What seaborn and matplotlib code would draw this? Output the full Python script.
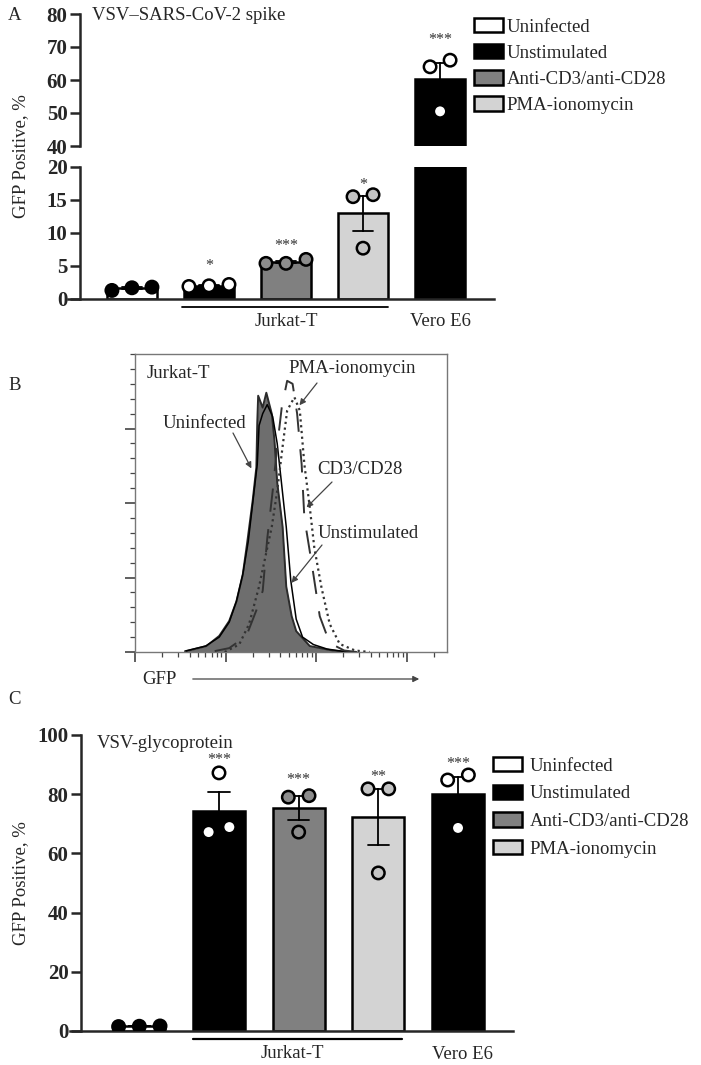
import numpy as np
import pandas as pd
import matplotlib
matplotlib.use('Agg')
import matplotlib.pyplot as plt
from matplotlib.patches import Patch
from matplotlib.ticker import MultipleLocator, LogLocator, NullFormatter
import seaborn as sns

# ---- data ----
groups = ['Uninfected', 'Unstimulated', 'Anti-CD3/anti-CD28', 'PMA-ionomycin', 'Vero E6']
legend_labels = ['Uninfected', 'Unstimulated', 'Anti-CD3/anti-CD28', 'PMA-ionomycin']
bar_colors = ['white', 'black', '#808080', '#d3d3d3', 'black']
dot_colors = ['black', 'white', '#8c8c8c', '#c4c4c4', 'white']

# A: VSV-SARS-CoV-2 spike (% GFP+)
spike_uninfected = [1.3, 1.8, 1.7]
spike_unstim = [1.9, 2.2, 2.0]
spike_cd3 = [5.4, 6.0, 5.4]
spike_pma = [15.8, 15.5, 7.7]
spike_vero = [66.0, 64.0, 50.5]
spike_stars = ['', '*', '***', '*', '***']
spike_star_y = [0, 5.0, 8.1, 17.2, 72.2]

# C: VSV-glycoprotein (% GFP+)
glyco_uninfected = [1.5, 1.7, 1.6]
glyco_unstim = [87.2, 67.2, 68.9]
glyco_cd3 = [79.5, 79.0, 67.2]
glyco_pma = [81.8, 81.8, 53.4]
glyco_vero = [86.5, 84.8, 68.6]
glyco_stars = ['', '***', '***', '**', '***']
glyco_star_y = [0, 91.4, 84.9, 85.9, 90.3]

# B: GFP histograms (log10 GFP, % of max)
uninf_log = [1.57, 1.79, 1.93, 2.04, 2.12, 2.19, 2.24, 2.30, 2.34, 2.35, 2.36, 2.41,
             2.45, 2.51, 2.54, 2.57, 2.63, 2.67, 2.73, 2.78, 2.93, 3.18, 3.34]
uninf_count = [0.3, 2, 5.4, 10.4, 17, 26, 37, 51, 62, 77, 86, 82,
               87, 80, 71, 57, 42, 22, 12, 7, 2, 0.5, 0]
unstim_log = [1.55, 1.78, 1.93, 2.04, 2.12, 2.19, 2.25, 2.30, 2.35, 2.37, 2.41, 2.46,
              2.52, 2.57, 2.62, 2.67, 2.72, 2.78, 2.85, 2.97, 3.12, 3.28, 3.42]
unstim_count = [0.3, 2, 5, 10, 17, 26, 37, 50, 63, 76, 80, 83,
                79, 70, 56, 42, 24, 11, 5, 2.5, 1, 0.3, 0]
cd3_log = [1.88, 2.04, 2.23, 2.34, 2.41, 2.46, 2.52, 2.57, 2.62, 2.68, 2.74, 2.79,
           2.84, 2.87, 2.95, 3.04, 3.15, 3.31, 3.45]
cd3_count = [0.3, 1.3, 5.4, 14, 20.5, 38, 54, 69, 82, 91, 90, 80,
             63, 45, 30, 12, 3, 0.5, 0]
pma_log = [1.99, 2.15, 2.26, 2.37, 2.51, 2.57, 2.63, 2.68, 2.76, 2.82, 2.87, 2.93,
           2.98, 3.06, 3.15, 3.26, 3.43, 3.59]
pma_count = [0, 2.5, 9.4, 22, 42, 54, 69, 81, 85.5, 81, 63, 48.5,
             35, 21.5, 9.4, 2.7, 0.5, 0]


def make_df(vals):
    rows = []
    for g, v in zip(groups, vals):
        for x in v:
            rows.append({'group': g, 'value': x})
    return pd.DataFrame(rows)


spike_df = make_df([spike_uninfected, spike_unstim, spike_cd3, spike_pma, spike_vero])
glyco_df = make_df([glyco_uninfected, glyco_unstim, glyco_cd3, glyco_pma, glyco_vero])


def spread(df, tol, step=0.26):
    # graphpad-like scatter: points closer than tol sit side by side
    pos = np.zeros(len(df))
    for gi, g in enumerate(groups):
        idx = np.where(df['group'].values == g)[0]
        vals = df['value'].values[idx]
        order = np.argsort(vals)
        clusters = [[order[0]]]
        for k in order[1:]:
            if vals[k] - vals[clusters[-1][-1]] < tol:
                clusters[-1].append(k)
            else:
                clusters.append([k])
        for c in clusters:
            n = len(c)
            for j, k in enumerate(c):
                pos[idx[k]] = gi + (j - (n - 1) / 2) * step
    return pos


sns.set_style('white')
plt.rcParams['font.family'] = ['Liberation Serif', 'DejaVu Serif']

W, H = 701, 1065
fig = plt.figure(figsize=(W / 100, H / 100), dpi=100)


def fx(px):
    return px / W


def fy(py):
    return 1 - py / H


FS = 13.5
TFS = 15
bar_pal = dict(zip(groups, bar_colors))
dot_pal = dict(zip(groups, dot_colors))


def draw_bars(ax, df, spine_frac, tol):
    sns.barplot(data=df, x='group', y='value', hue='group', order=groups, hue_order=groups,
                palette=bar_pal, errorbar='se', capsize=0.27, width=0.65,
                err_kws={'color': 'black', 'linewidth': 1.3},
                edgecolor='black', linewidth=1.8, legend=False, ax=ax)
    sns.scatterplot(x=spread(df, tol), y=df['value'].values, hue=df['group'].values,
                    hue_order=groups, palette=dot_pal, s=80, edgecolor='black',
                    linewidth=1.8, legend=False, ax=ax, zorder=3)
    ax.set_xlabel('')
    ax.set_ylabel('')
    ax.tick_params(axis='x', bottom=False, labelbottom=False)
    ax.tick_params(axis='y', left=True, length=7, width=1.8, direction='out', pad=2)
    ax.spines['top'].set_visible(False)
    ax.spines['right'].set_visible(False)
    ax.spines['left'].set_position(('axes', spine_frac))
    ax.spines['left'].set_linewidth(1.8)
    ax.spines['bottom'].set_linewidth(1.8)
    ax.patch.set_alpha(0)


# ---- Panel A ----
axA_top = fig.add_axes([fx(68), fy(146), fx(426), 132 / H])
axA_bot = fig.add_axes([fx(68), fy(299), fx(426), 132 / H])
for ax, lim, ticks, tol in [(axA_top, (40, 80), [40, 50, 60, 70, 80], 4.0),
                            (axA_bot, (0, 20), [0, 5, 10, 15, 20], 2.0)]:
    draw_bars(ax, spike_df, 12 / 426, tol)
    ax.set_ylim(*lim)
    ax.set_yticks(ticks)
    ax.set_yticklabels([str(t) for t in ticks], fontweight='bold', fontsize=TFS)
    ax.set_xlim(-0.83, 4.70)
axA_top.spines['bottom'].set_visible(False)

for i, s in enumerate(spike_stars):
    if not s:
        continue
    target = axA_top if spike_star_y[i] > 20 else axA_bot
    target.text(i, spike_star_y[i], s, ha='center', va='center', fontsize=11.5, color='#333333')

fig.text(fx(8), fy(15), 'A', fontsize=FS, va='center', ha='left')
fig.text(fx(92), fy(15), 'VSV\u2013SARS-CoV-2 spike', fontsize=FS, va='center', ha='left')
fig.text(fx(21), fy(156), 'GFP Positive, %', fontsize=FS, rotation=90, va='center', ha='center')
axA_bot.plot([0.65, 3.325], [-0.06, -0.06], color='black', lw=1.3,
             transform=axA_bot.get_xaxis_transform(), clip_on=False)
axA_bot.text(2, -0.17, 'Jurkat-T', transform=axA_bot.get_xaxis_transform(), ha='center', va='center', fontsize=FS)
axA_bot.text(4, -0.17, 'Vero E6', transform=axA_bot.get_xaxis_transform(), ha='center', va='center', fontsize=FS)

handles = [Patch(facecolor=c, edgecolor='black', linewidth=1.8) for c in bar_colors[:4]]
fig.legend(handles, legend_labels, loc='upper left', bbox_to_anchor=(fx(474), fy(18)),
           bbox_transform=fig.transFigure, frameon=False, fontsize=FS, handlelength=1.55,
           handleheight=0.8, handletextpad=0.2, labelspacing=0.45, borderpad=0, borderaxespad=0)

# ---- Panel B ----
axB = fig.add_axes([fx(135), fy(652), fx(312), 298 / H])
axB.set_xscale('log')
ux = 10 ** np.array(uninf_log)
axB.fill_between(ux, uninf_count, color='#6e6e6e', zorder=1, lw=0)
sns.lineplot(x=ux, y=uninf_count, color='#2b2b2b', lw=1.4, estimator=None, ax=axB, zorder=2)
sns.lineplot(x=10 ** np.array(unstim_log), y=unstim_count, color='black', lw=1.1,
             estimator=None, ax=axB, zorder=3)
sns.lineplot(x=10 ** np.array(cd3_log), y=cd3_count, color='#333333', lw=1.4,
             estimator=None, ax=axB, zorder=4, dashes=False, linestyle=(0, (12, 9)))
sns.lineplot(x=10 ** np.array(pma_log), y=pma_count, color='#333333', lw=1.6,
             estimator=None, ax=axB, zorder=4, dashes=False, linestyle=(0, (1, 1.6)))
axB.set_xlim(10, 10 ** 4.445)
axB.set_ylim(0, 100)
axB.set_xticks([10, 100, 1000, 10000])
axB.xaxis.set_minor_locator(LogLocator(base=10, subs=np.arange(2, 10)))
axB.xaxis.set_minor_formatter(NullFormatter())
axB.set_xticklabels([])
axB.set_yticks([0, 25, 50, 75])
axB.yaxis.set_minor_locator(MultipleLocator(5))
axB.set_yticklabels([])
axB.tick_params(which='major', length=7, width=1.2, color='#444444', direction='out',
                bottom=True, left=True)
axB.tick_params(which='minor', length=3.5, width=0.9, color='#444444', direction='out',
                bottom=True, left=True)
for sp in axB.spines.values():
    sp.set_color('#777777')
    sp.set_linewidth(1.0)
axB.set_xlabel('')
axB.set_ylabel('')

fig.text(fx(8), fy(385), 'B', fontsize=FS, va='center', ha='left')
fig.text(fx(147), fy(373), 'Jurkat-T', fontsize=FS, va='center', ha='left')
fig.text(fx(288), fy(368), 'PMA-ionomycin', fontsize=FS, va='center', ha='left')
fig.text(fx(163), fy(423), 'Uninfected', fontsize=FS, va='center', ha='left')
fig.text(fx(317), fy(470), 'CD3/CD28', fontsize=FS, va='center', ha='left')
fig.text(fx(318), fy(533), 'Unstimulated', fontsize=FS, va='center', ha='left')
arrow_kw = dict(arrowstyle='-|>', color='#444444', lw=0.9, mutation_scale=9, shrinkA=0, shrinkB=0)
for start, tip in [((233, 433), (2.285, 61.6)), ((317, 383), (2.816, 82.8)),
                   ((332, 482), (2.894, 48.5)), ((322, 545), (2.728, 23.2))]:
    axB.annotate('', xy=(10 ** tip[0], tip[1]), xycoords='data',
                 xytext=(fx(start[0]), fy(start[1])), textcoords='figure fraction',
                 arrowprops=arrow_kw)
fig.text(fx(159), fy(679), 'GFP', fontsize=FS, va='center', ha='center')
axB.annotate('', xy=(fx(422), fy(679)), xycoords='figure fraction',
             xytext=(fx(190), fy(679)), textcoords='figure fraction',
             arrowprops=dict(arrowstyle='-|>', color='#444444', lw=0.9, mutation_scale=9))

# ---- Panel C ----
axC = fig.add_axes([fx(70), fy(1031), fx(443), 296 / H])
draw_bars(axC, glyco_df, 11 / 443, 4.4)
axC.set_ylim(0, 100)
axC.set_yticks([0, 20, 40, 60, 80, 100])
axC.set_yticklabels(['0', '20', '40', '60', '80', '100'], fontweight='bold', fontsize=TFS)
axC.set_xlim(-0.87, 4.69)
for i, s in enumerate(glyco_stars):
    if s:
        axC.text(i, glyco_star_y[i], s, ha='center', va='center', fontsize=11.5, color='#333333')
axC.plot([0.675, 3.3], [-0.027, -0.027], color='black', lw=1.6,
         transform=axC.get_xaxis_transform(), clip_on=False)
axC.text(1.92, -0.075, 'Jurkat-T', transform=axC.get_xaxis_transform(), ha='center', va='center', fontsize=FS)
axC.text(4.05, -0.08, 'Vero E6', transform=axC.get_xaxis_transform(), ha='center', va='center', fontsize=FS)
fig.text(fx(8), fy(699), 'C', fontsize=FS, va='center', ha='left')
fig.text(fx(97), fy(743), 'VSV-glycoprotein', fontsize=FS, va='center', ha='left')
fig.text(fx(21), fy(883), 'GFP Positive, %', fontsize=FS, rotation=90, va='center', ha='center')
fig.legend(handles, legend_labels, loc='upper left', bbox_to_anchor=(fx(493), fy(757)),
           bbox_transform=fig.transFigure, frameon=False, fontsize=FS, handlelength=1.55,
           handleheight=0.8, handletextpad=0.4, labelspacing=0.53, borderpad=0, borderaxespad=0)

fig.savefig('out.png', dpi=100)
